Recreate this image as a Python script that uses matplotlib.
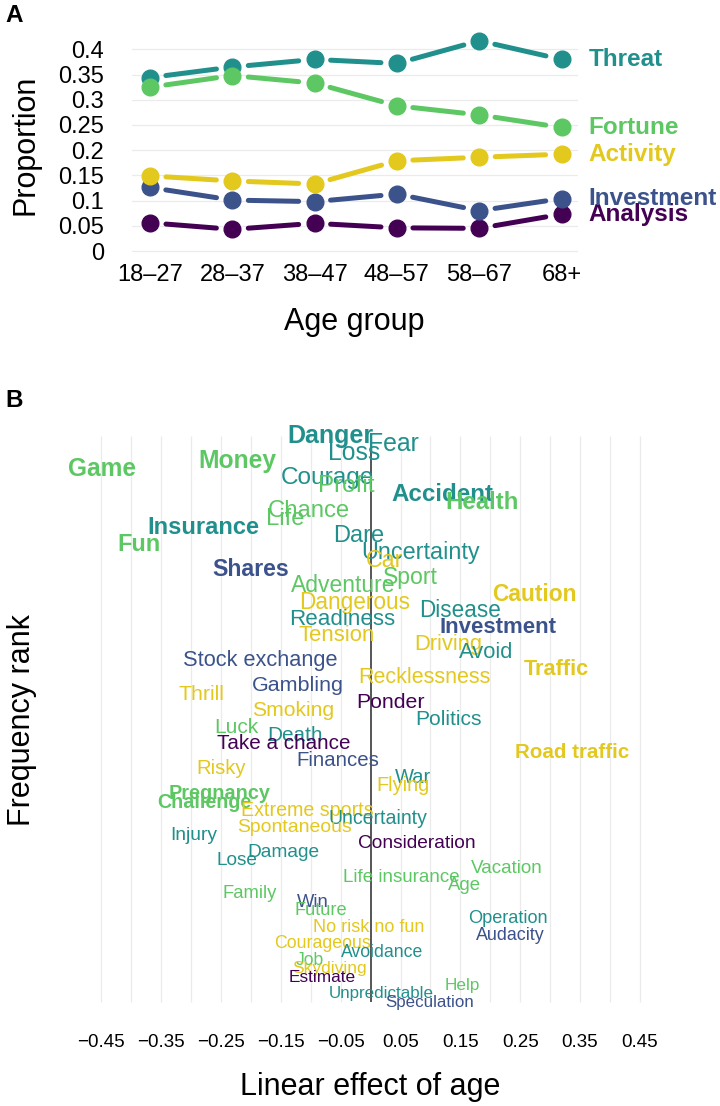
import matplotlib
matplotlib.use('Agg')
import matplotlib.pyplot as plt
import numpy as np

plt.rcParams['font.family'] = ['Liberation Sans', 'DejaVu Sans']

# Panel A: proportion of associations per category and age group
age_groups = ['18–27', '28–37', '38–47', '48–57', '58–67', '68+']
threat = [0.344, 0.365, 0.380, 0.372, 0.417, 0.380]
fortune = [0.325, 0.348, 0.333, 0.288, 0.270, 0.245]
activity = [0.149, 0.139, 0.133, 0.179, 0.186, 0.192]
investment = [0.126, 0.101, 0.098, 0.113, 0.080, 0.104]
analysis = [0.056, 0.043, 0.055, 0.046, 0.045, 0.073]
prop_ticks = [0, 0.05, 0.1, 0.15, 0.2, 0.25, 0.3, 0.35, 0.4]
prop_labels = ['0', '0.05', '0.1', '0.15', '0.2', '0.25', '0.3', '0.35', '0.4']

# Panel B: words in order of frequency rank
words = ['Danger', 'Fear', 'Loss', 'Money', 'Game', 'Courage', 'Profit', 'Accident',
         'Health', 'Chance', 'Life', 'Insurance', 'Dare', 'Fun', 'Uncertainty', 'Car',
         'Shares', 'Sport', 'Adventure', 'Caution', 'Dangerous', 'Disease', 'Readiness',
         'Investment', 'Tension', 'Driving', 'Avoid', 'Stock exchange', 'Traffic',
         'Recklessness', 'Gambling', 'Thrill', 'Ponder', 'Smoking', 'Politics', 'Luck',
         'Death', 'Take a chance', 'Road traffic', 'Finances', 'Risky', 'War', 'Flying',
         'Pregnancy', 'Challenge', 'Extreme sports', 'Uncertainty', 'Spontaneous',
         'Injury', 'Consideration', 'Damage', 'Lose', 'Vacation', 'Life insurance', 'Age',
         'Family', 'Win', 'Future', 'Operation', 'No risk no fun', 'Audacity',
         'Courageous', 'Avoidance', 'Job', 'Skydiving', 'Estimate', 'Help',
         'Unpredictable', 'Speculation']
age_effect = [-0.067, 0.038, -0.027, -0.222, -0.449, -0.073, -0.040, 0.120,
              0.186, -0.103, -0.142, -0.280, -0.020, -0.387, 0.083, 0.024,
              -0.200, 0.066, -0.046, 0.274, -0.026, 0.149, -0.047,
              0.213, -0.056, 0.129, 0.193, -0.184, 0.311,
              0.090, -0.121, -0.282, 0.034, -0.130, 0.131, -0.224,
              -0.126, -0.145, 0.337, -0.055, -0.250, 0.071, 0.054,
              -0.253, -0.278, -0.106, 0.013, -0.128,
              -0.296, 0.078, -0.146, -0.223, 0.227, 0.052, 0.157,
              -0.202, -0.097, -0.083, 0.230, -0.003, 0.234,
              -0.080, 0.019, -0.101, -0.069, -0.081, 0.154,
              0.018, 0.098]
word_category = ['Threat', 'Threat', 'Threat', 'Fortune', 'Fortune', 'Threat', 'Fortune', 'Threat',
                 'Fortune', 'Fortune', 'Fortune', 'Threat', 'Threat', 'Fortune', 'Threat', 'Activity',
                 'Investment', 'Fortune', 'Fortune', 'Activity', 'Activity', 'Threat', 'Threat',
                 'Investment', 'Activity', 'Activity', 'Threat', 'Investment', 'Activity',
                 'Activity', 'Investment', 'Activity', 'Analysis', 'Activity', 'Threat', 'Fortune',
                 'Threat', 'Analysis', 'Activity', 'Investment', 'Activity', 'Threat', 'Activity',
                 'Fortune', 'Fortune', 'Activity', 'Threat', 'Activity',
                 'Threat', 'Analysis', 'Threat', 'Threat', 'Fortune', 'Fortune', 'Fortune',
                 'Fortune', 'Investment', 'Fortune', 'Threat', 'Activity', 'Investment',
                 'Activity', 'Threat', 'Fortune', 'Activity', 'Analysis', 'Fortune',
                 'Threat', 'Investment']
significant = [True, False, False, True, True, False, False, True,
               True, False, False, True, False, True, False, False,
               True, False, False, True, False, False, False,
               True, False, False, False, False, True,
               False, False, False, False, False, False, False,
               False, False, True, False, False, False, False,
               True, True, False, False, False,
               False, False, False, False, False, False, False,
               False, False, False, False, False, False,
               False, False, False, False, False, False,
               False, False]
effect_ticks = [-0.45, -0.35, -0.25, -0.15, -0.05, 0.05, 0.15, 0.25, 0.35, 0.45]
effect_labels = ['−0.45', '−0.35', '−0.25', '−0.15', '−0.05', '0.05', '0.15', '0.25', '0.35', '0.45']

colors = {'Analysis': '#440154', 'Investment': '#3B528B', 'Threat': '#21908C',
          'Fortune': '#5DC863', 'Activity': '#E3C81E'}

W, H = 720, 1106
fig = plt.figure(figsize=(W / 100, H / 100), dpi=100)


def px_axes(left, top, right, bottom):
    return fig.add_axes([left / W, 1 - bottom / H, (right - left) / W, (bottom - top) / H])


# ---- panel A ----
axA = px_axes(131.5, 34.2, 578, 258.6)
axA.set_xlim(-0.225, 5.2)
axA.set_ylim(-0.015, 0.43)
xs = np.arange(len(age_groups))
series = [('Analysis', analysis), ('Investment', investment), ('Threat', threat),
          ('Fortune', fortune), ('Activity', activity)]

# line segments stop short of the points (gap of ~16 px on each end)
gap = 16
to_px = axA.transData
to_data = axA.transData.inverted()
for i, (name, vals) in enumerate(series):
    c = colors[name]
    pts = to_px.transform(np.column_stack([xs, vals]))
    for p0, p1 in zip(pts[:-1], pts[1:]):
        d = (p1 - p0) / np.hypot(*(p1 - p0))
        seg = to_data.transform(np.array([p0 + d * gap, p1 - d * gap]))
        axA.plot(seg[:, 0], seg[:, 1], color=c, lw=3.6, solid_capstyle='round',
                 clip_on=False, zorder=2)
for i, (name, vals) in enumerate(series):
    c = colors[name]
    axA.plot(xs, vals, ls='none', marker='o', ms=12, color=c, clip_on=False, zorder=3 + i)
    axA.annotate(name, (xs[-1], vals[-1]), xytext=(19.5, 0), textcoords='offset points',
                 ha='left', va='center', fontsize=17.5, fontweight='bold', color=c,
                 annotation_clip=False)
axA.set_yticks(prop_ticks, prop_labels)
axA.set_xticks(xs, age_groups)
axA.grid(axis='y', color='#EBEBEB', lw=0.9)
axA.grid(axis='x', visible=False)
axA.set_axisbelow(True)
for s in axA.spines.values():
    s.set_visible(False)
axA.tick_params(axis='y', length=0, labelsize=17, pad=19.8)
axA.tick_params(axis='x', length=0, labelsize=17, pad=4)

fig.text(25.5 / W, 1 - 145 / H, 'Proportion', rotation=90, ha='center', va='center', fontsize=22)
fig.text(354 / W, 1 - 322 / H, 'Age group', ha='center', va='center', fontsize=22)
fig.text(14 / W, 1 - 15 / H, 'A', ha='center', va='center', fontsize=17.5, fontweight='bold')

# ---- panel B ----
axB = px_axes(71.4, 420, 669.8, 1015)
ranks = np.arange(1, len(words) + 1)
axB.set_xlim(-0.5, 0.5)
axB.set_ylim(70.56, -0.923)
grid_x = np.round(np.arange(-0.45, 0.451, 0.05), 2)
grid_x = grid_x[np.abs(grid_x) > 1e-9]
axB.vlines(grid_x, ranks[0], ranks[-1], color='#EBEBEB', lw=0.9, zorder=1)
axB.vlines(0, ranks[0], ranks[-1], color='#555555', lw=1.4, zorder=2)
for w, e, r, cat, sig in zip(words, age_effect, ranks, word_category, significant):
    size = 18 - 5.8 * (r - 1) / (len(words) - 1)
    axB.text(e, r, w, ha='center', va='center', fontsize=size, color=colors[cat],
             fontweight='bold' if sig else 'normal', zorder=3, clip_on=False)
axB.set_xticks(effect_ticks, effect_labels)
axB.set_yticks([])
for s in axB.spines.values():
    s.set_visible(False)
axB.tick_params(axis='x', length=0, labelsize=13.5, pad=13.5)

fig.text(370 / W, 1 - 1087 / H, 'Linear effect of age', ha='center', va='center', fontsize=22)
fig.text(22 / W, 1 - 720 / H, 'Frequency rank', rotation=90, ha='center', va='center', fontsize=22)
fig.text(14 / W, 1 - 400 / H, 'B', ha='center', va='center', fontsize=17.5, fontweight='bold')

fig.savefig('out.png', dpi=100)
